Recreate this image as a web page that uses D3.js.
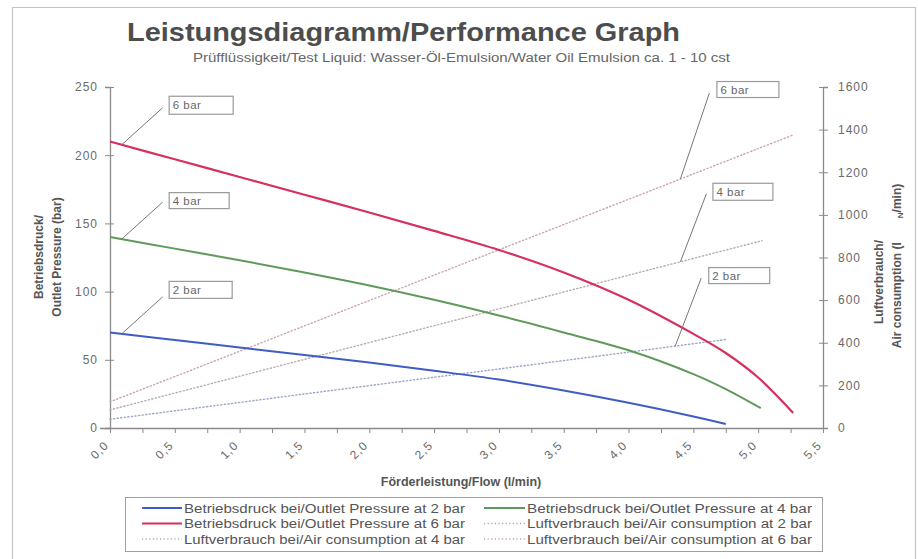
<!DOCTYPE html>
<html>
<head>
<meta charset="utf-8">
<script src="https://cdn.jsdelivr.net/npm/d3@7"></script>
<style>
  html, body { margin: 0; padding: 0; background: #fff; }
  svg { display: block; font-family: "Liberation Sans", Arial, sans-serif; }
</style>
</head>
<body>
<svg id="chart" width="918" height="559"></svg>
<script>
// ---------- data ----------
const flowTicks = [0, 0.25, 0.5, 0.75, 1, 1.25, 1.5, 1.75, 2, 2.25, 2.5, 2.75, 3, 3.25, 3.5, 3.75, 4, 4.25, 4.5, 4.75, 5, 5.25, 5.5];
const pressureTicks = [0, 50, 100, 150, 200, 250];
const airTicks = [0, 200, 400, 600, 800, 1000, 1200, 1400, 1600];

// Outlet pressure (bar) vs flow (l/min)
const pressure2Flow = [0, 0.5, 1.0, 1.5, 2.0, 2.5, 3.0, 3.5, 4.0, 4.5, 4.75];
const pressure2     = [70, 64.5, 59, 53.5, 48, 42, 35.5, 27.5, 18.5, 8.5, 3];
const pressure4Flow = [0, 0.5, 1.0, 1.5, 2.0, 2.5, 3.0, 3.5, 4.0, 4.5, 4.75, 5.02];
const pressure4     = [140, 131.5, 123, 114, 104.5, 94, 82.5, 70, 57, 39.5, 28.5, 14.5];
const pressure6Flow = [0, 0.5, 1.0, 1.5, 2.0, 2.5, 3.0, 3.5, 4.0, 4.5, 4.75, 5.0, 5.27];
const pressure6     = [210, 197, 184, 171, 158, 144.5, 130.5, 114, 94, 69, 55, 37, 11];

// Air consumption (l N/min) vs flow (l/min)
const air2Flow = [0, 1, 2, 3, 4, 4.76];
const air2     = [41, 120, 199, 277, 356, 416];
const air4Flow = [0, 1, 2, 3, 4, 5.03];
const air4     = [85, 243, 401, 559, 717, 879];
const air6Flow = [0, 1, 2, 3, 4, 5, 5.27];
const air6     = [123, 360, 598, 836, 1073, 1311, 1375];

const seriesNames = [
  "Betriebsdruck bei/Outlet Pressure at 2 bar",
  "Betriebsdruck bei/Outlet Pressure at 4 bar",
  "Betriebsdruck bei/Outlet Pressure at 6 bar",
  "Luftverbrauch bei/Air consumption at 2 bar",
  "Luftverbrauch bei/Air consumption at 4 bar",
  "Luftverbrauch bei/Air consumption at 6 bar"
];
const labelTexts = ["2 bar", "4 bar", "6 bar"];

// ---------- build ----------
const series = [
  {name: seriesNames[0], xs: pressure2Flow, ys: pressure2, axis: "L", color: "#3f5cc4", dash: null, w: 2},
  {name: seriesNames[1], xs: pressure4Flow, ys: pressure4, axis: "L", color: "#5f9a5c", dash: null, w: 2},
  {name: seriesNames[2], xs: pressure6Flow, ys: pressure6, axis: "L", color: "#d5305e", dash: null, w: 2.2},
  {name: seriesNames[3], xs: air2Flow, ys: air2, axis: "R", color: "#9ba6c8", dash: "1.2,2.4", w: 1.4},
  {name: seriesNames[4], xs: air4Flow, ys: air4, axis: "R", color: "#b8aeae", dash: "1.2,2.4", w: 1.4},
  {name: seriesNames[5], xs: air6Flow, ys: air6, axis: "R", color: "#cda3ad", dash: "1.2,2.4", w: 1.4}
];

const svg = d3.select("#chart");
const x = d3.scaleLinear().domain([0, 5.5]).range([110, 823]);
const yL = d3.scaleLinear().domain([0, 250]).range([428, 87]);
const yR = d3.scaleLinear().domain([0, 1600]).range([428, 87]);

// outer frame
svg.append("path")
  .attr("d", "M12.5,559 V7.5 H915.5 V559")
  .attr("fill", "none").attr("stroke", "#c4c4c4").attr("stroke-width", 1.2);

// title
svg.append("text").attr("x", 127).attr("y", 41)
  .attr("textLength", 553).attr("lengthAdjust", "spacingAndGlyphs")
  .attr("font-size", 26).attr("font-weight", "bold").attr("fill", "#4d4d4d")
  .text("Leistungsdiagramm/Performance Graph");
svg.append("text").attr("x", 193).attr("y", 62)
  .attr("textLength", 537).attr("lengthAdjust", "spacingAndGlyphs")
  .attr("font-size", 12).attr("fill", "#666")
  .text("Prüfflüssigkeit/Test Liquid: Wasser-Öl-Emulsion/Water Oil Emulsion ca. 1 - 10 cst");

const axisColor = "#8a8a8a";
const tickTextColor = "#6a6a6a";

// left axis
const gL = svg.append("g").attr("transform", "translate(110,0)")
  .call(d3.axisLeft(yL).tickValues(pressureTicks).tickSize(5).tickPadding(7).tickFormat(d3.format("d")));
gL.selectAll("line").attr("x1", 4).attr("x2", -5);

// right axis
const gR = svg.append("g").attr("transform", "translate(823,0)")
  .call(d3.axisRight(yR).tickValues(airTicks).tickSize(5).tickPadding(10).tickFormat(d3.format("d")));
gR.selectAll("line").attr("x1", -4).attr("x2", 5);

// bottom axis
const fmt = d => (Math.round(d * 4) % 2 === 0) ? d3.format(".1f")(d).replace(".", ",") : "";
const gB = svg.append("g").attr("transform", "translate(0,428)")
  .call(d3.axisBottom(x).tickValues(flowTicks).tickSize(5).tickFormat(fmt));
gB.selectAll("text")
  .attr("x", 0).attr("y", 0).attr("dy", "0.35em")
  .attr("text-anchor", "end")
  .attr("transform", "translate(-4,15) rotate(-45)");

[gL, gR, gB].forEach(g => {
  g.select(".domain").attr("stroke", axisColor).attr("stroke-width", 1.3);
  g.selectAll("line").attr("stroke", axisColor).attr("stroke-width", 1);
  g.selectAll("text").attr("fill", tickTextColor).attr("font-size", 12)
    .attr("letter-spacing", 1).attr("font-family", "Liberation Sans, Arial, sans-serif");
});
gB.select(".domain").attr("d", "M100,0.5H823");

// axis titles
[{x: 43, t: "Betriebsdruck/"}, {x: 61, t: "Outlet Pressure (bar)"}].forEach(l => {
  svg.append("text")
    .attr("transform", `translate(${l.x},257) rotate(-90)`)
    .attr("text-anchor", "middle").attr("font-size", 12)
    .attr("font-weight", "bold").attr("fill", "#555").text(l.t);
});
svg.append("text")
  .attr("transform", "translate(883,282) rotate(-90)")
  .attr("text-anchor", "middle").attr("font-size", 12)
  .attr("font-weight", "bold").attr("fill", "#555").text("Luftverbrauch/");
const airT = svg.append("text")
  .attr("transform", "translate(901,266) rotate(-90)")
  .attr("text-anchor", "middle").attr("font-size", 12)
  .attr("font-weight", "bold").attr("fill", "#555");
airT.append("tspan").text("Air consumption (l\u2003\u2003");
airT.append("tspan").attr("font-size", 8).attr("dy", 2).text("N");
airT.append("tspan").attr("dy", -2).text("/min)");

svg.append("text").attr("x", 461).attr("y", 486)
  .attr("text-anchor", "middle").attr("font-size", 12.5)
  .attr("font-weight", "bold").attr("fill", "#555")
  .text("Förderleistung/Flow (l/min)");

// series lines
const lineGen = (s) => d3.line()
  .x((d, i) => x(s.xs[i]))
  .y((d, i) => (s.axis === "L" ? yL : yR)(s.ys[i]))
  .curve(d3.curveCatmullRom.alpha(0.5));

const drawOrder = [3, 4, 5, 0, 1, 2];
drawOrder.forEach(k => {
  const s = series[k];
  svg.append("path")
    .attr("d", lineGen(s)(s.ys))
    .attr("fill", "none")
    .attr("stroke", s.color)
    .attr("stroke-width", s.w)
    .attr("stroke-dasharray", s.dash)
    .attr("stroke-linecap", s.dash ? "round" : "butt");
});

// annotations (labels with leader lines)
function valueAt(s, xv) {
  const i = d3.bisectRight(s.xs, xv) - 1;
  const j = Math.min(i + 1, s.xs.length - 1);
  const t = (xv - s.xs[i]) / ((s.xs[j] - s.xs[i]) || 1);
  return s.ys[i] + t * (s.ys[j] - s.ys[i]);
}
const annotations = [
  {s: 2, at: 0.09, text: labelTexts[2], lead: [41, -37], box: [47, -49, 64, 18]},
  {s: 1, at: 0.09, text: labelTexts[1], lead: [41, -37], box: [47, -47, 60, 16]},
  {s: 0, at: 0.09, text: labelTexts[0], lead: [41, -37], box: [47, -53, 63, 17]},
  {s: 5, at: 4.40, text: labelTexts[2], lead: [29, -86], box: [36, -98, 62, 16]},
  {s: 4, at: 4.40, text: labelTexts[1], lead: [26, -68], box: [32, -79, 60, 17]},
  {s: 3, at: 4.36, text: labelTexts[0], lead: [26, -68], box: [33, -79, 61, 16]}
];
annotations.forEach(a => {
  const s = series[a.s];
  const ax = x(a.at), ay = (s.axis === "L" ? yL : yR)(valueAt(s, a.at));
  svg.append("line")
    .attr("x1", ax).attr("y1", ay)
    .attr("x2", ax + a.lead[0]).attr("y2", ay + a.lead[1])
    .attr("stroke", "#777").attr("stroke-width", 1);
  svg.append("rect")
    .attr("x", ax + a.box[0] + 0.5).attr("y", ay + a.box[1] + 0.5)
    .attr("width", a.box[2]).attr("height", a.box[3])
    .attr("fill", "#fff").attr("stroke", "#9a9a9a").attr("stroke-width", 1.2);
  svg.append("text")
    .attr("x", ax + a.box[0] + 4).attr("y", ay + a.box[1] + a.box[3] / 2 + 4.5)
    .attr("font-size", 11.5).attr("fill", "#666").attr("letter-spacing", 0.5)
    .text(a.text);
});

// legend
const legend = svg.append("g");
legend.append("rect").attr("x", 125.5).attr("y", 497.5).attr("width", 697).attr("height", 54)
  .attr("fill", "#fff").attr("stroke", "#a0a0a0").attr("stroke-width", 1);
const legendOrder = [0, 1, 2, 3, 4, 5];
legendOrder.forEach((k, idx) => {
  const s = series[k];
  const col = idx % 2, row = Math.floor(idx / 2);
  const ly = 508 + row * 15.5;
  const lx0 = col === 0 ? 142 : 484;
  const lx1 = col === 0 ? 182 : 525;
  const tx = col === 0 ? 184 : 527;
  legend.append("line").attr("x1", lx0).attr("x2", lx1).attr("y1", ly).attr("y2", ly)
    .attr("stroke", s.color).attr("stroke-width", s.dash ? 1.3 : 2)
    .attr("stroke-dasharray", s.dash);
  legend.append("text").attr("x", tx).attr("y", ly + 4.5)
    .attr("font-size", 12.5).attr("fill", "#555")
    .attr("textLength", col === 0 ? 281 : 285).attr("lengthAdjust", "spacingAndGlyphs")
    .text(s.name);
});
</script>
</body>
</html>
